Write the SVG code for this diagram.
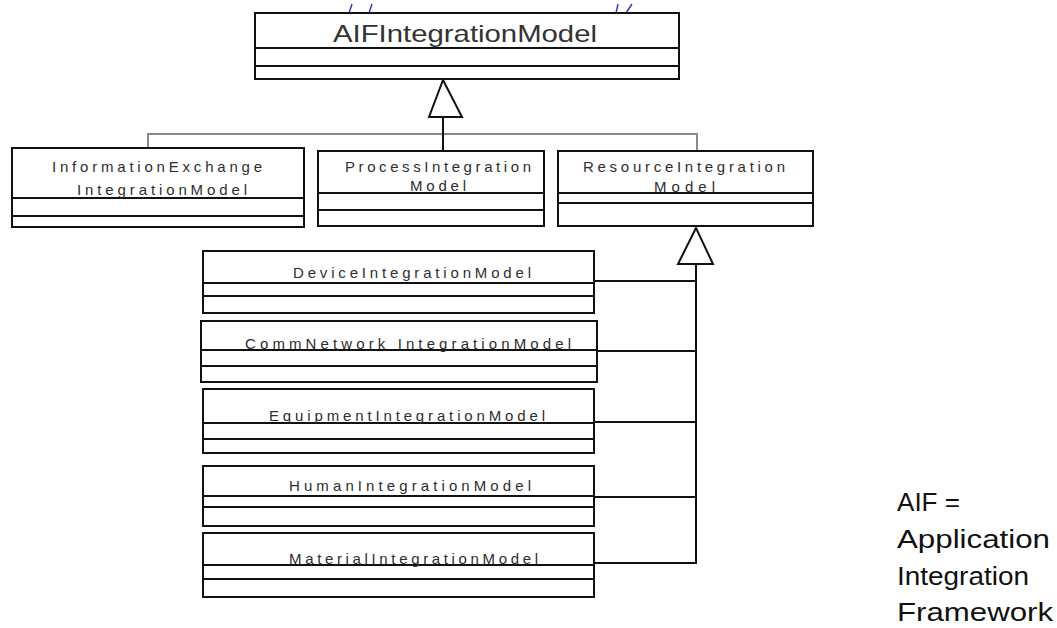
<svg xmlns="http://www.w3.org/2000/svg" width="1057" height="628" viewBox="0 0 1057 628">
  <style>
    .box { fill: #ffffff; stroke: #111111; stroke-width: 2; }
    .div { stroke: #111111; stroke-width: 2; }
    .lbl { font-family: "Liberation Sans", Arial, sans-serif; fill: #2e2e2e; }
    .big { font-size: 24px; fill: #333333; }
    .mid { font-size: 15px; }
    .sm  { font-size: 15px; }
    .note { font-family: "Liberation Sans", Arial, sans-serif; font-size: 26px; fill: #111111; }
    .gen { fill: none; stroke: #111111; stroke-width: 2; }
    .gray { fill: none; stroke: #8a8a8a; stroke-width: 2; }
    .head { fill: #ffffff; stroke: #111111; stroke-width: 2; }
  </style>
  <rect width="1057" height="628" fill="#ffffff"/>

  <!-- partial glyph marks at the top edge -->
  <g id="edge-marks" fill="none" stroke="#3b3bb8" stroke-width="1.5">
    <path d="M352 4 L349 13 L358 13 M372 4 L369 13 L378 13"/>
    <path d="M618 4 L616 13 L626 13 L632 4"/>
  </g>

  <!-- connectors -->
  <g id="connectors">
    <!-- first-level generalisation -->
    <polyline class="gray" points="148,160 148,134 697,134 697,153"/>
    <line class="gen" x1="443" y1="117" x2="443" y2="150"/>
    <polygon class="head" points="443,80 429,117 462,117"/>
    <!-- ResourceIntegrationModel generalisation -->
    <polyline class="gen" points="594,281 696,281"/>
    <polyline class="gen" points="597,351 696,351"/>
    <polyline class="gen" points="594,422 696,422"/>
    <polyline class="gen" points="594,497 696,497"/>
    <polyline class="gen" points="594,563 696,563 696,264"/>
    <polygon class="head" points="696,228 678,264 713,264"/>
  </g>

  <g id="AIFIntegrationModel">
    <rect class="box" x="255" y="13" width="424" height="66"/>
    <line class="div" x1="255" y1="48" x2="679" y2="48"/>
    <line class="div" x1="255" y1="66" x2="679" y2="66"/>
    <text class="lbl big" x="333" y="42" textLength="264" lengthAdjust="spacingAndGlyphs">AIFIntegrationModel</text>
  </g>

  <g id="InformationExchangeIntegrationModel">
    <rect class="box" x="12" y="148" width="292" height="79"/>
    <line class="div" x1="12" y1="198" x2="304" y2="198"/>
    <line class="div" x1="12" y1="216" x2="304" y2="216"/>
    <text class="lbl mid" x="52" y="172" textLength="210" lengthAdjust="spacing">InformationExchange</text>
    <text class="lbl mid" x="77" y="195" textLength="170" lengthAdjust="spacing">IntegrationModel</text>
  </g>

  <g id="ProcessIntegrationModel">
    <rect class="box" x="318" y="151" width="226" height="75"/>
    <line class="div" x1="318" y1="193" x2="544" y2="193"/>
    <line class="div" x1="318" y1="210" x2="544" y2="210"/>
    <text class="lbl mid" x="345" y="172" textLength="186" lengthAdjust="spacing">ProcessIntegration</text>
    <text class="lbl mid" x="410" y="191" textLength="56" lengthAdjust="spacing">Model</text>
  </g>

  <g id="ResourceIntegrationModel">
    <rect class="box" x="558" y="151" width="255" height="75"/>
    <line class="div" x1="558" y1="193" x2="813" y2="193"/>
    <line class="div" x1="558" y1="203" x2="813" y2="203"/>
    <text class="lbl mid" x="583" y="172" textLength="202" lengthAdjust="spacing">ResourceIntegration</text>
    <text class="lbl mid" x="654" y="192" textLength="61" lengthAdjust="spacing">Model</text>
  </g>

  <g id="DeviceIntegrationModel">
    <rect class="box" x="203" y="251" width="391" height="62"/>
    <line class="div" x1="203" y1="283" x2="594" y2="283"/>
    <line class="div" x1="203" y1="296" x2="594" y2="296"/>
    <text class="lbl sm" x="293" y="278" textLength="238" lengthAdjust="spacing">DeviceIntegrationModel</text>
  </g>

  <g id="CommNetworkIntegrationModel">
    <rect class="box" x="201" y="321" width="396" height="61"/>
    <line class="div" x1="201" y1="350" x2="597" y2="350"/>
    <line class="div" x1="201" y1="366" x2="597" y2="366"/>
    <text class="lbl sm" x="245" y="349" textLength="326" lengthAdjust="spacing">CommNetwork IntegrationModel</text>
  </g>

  <g id="EquipmentIntegrationModel">
    <rect class="box" x="203" y="389" width="391" height="64"/>
    <line class="div" x1="203" y1="423" x2="594" y2="423"/>
    <line class="div" x1="203" y1="439" x2="594" y2="439"/>
    <text class="lbl sm" x="269" y="421" textLength="276" lengthAdjust="spacing">EquipmentIntegrationModel</text>
  </g>

  <g id="HumanIntegrationModel">
    <rect class="box" x="203" y="466" width="391" height="60"/>
    <line class="div" x1="203" y1="496" x2="594" y2="496"/>
    <line class="div" x1="203" y1="507" x2="594" y2="507"/>
    <text class="lbl sm" x="289" y="491" textLength="242" lengthAdjust="spacing">HumanIntegrationModel</text>
  </g>

  <g id="MaterialIntegrationModel">
    <rect class="box" x="203" y="533" width="391" height="64"/>
    <line class="div" x1="203" y1="565" x2="594" y2="565"/>
    <line class="div" x1="203" y1="579" x2="594" y2="579"/>
    <text class="lbl sm" x="289" y="564" textLength="249" lengthAdjust="spacing">MaterialIntegrationModel</text>
  </g>

  <g id="legend">
    <text class="note" x="897" y="511" textLength="63" lengthAdjust="spacingAndGlyphs">AIF =</text>
    <text class="note" x="897" y="548" textLength="153" lengthAdjust="spacingAndGlyphs">Application</text>
    <text class="note" x="897" y="585" textLength="132" lengthAdjust="spacingAndGlyphs">Integration</text>
    <text class="note" x="897" y="621" textLength="156" lengthAdjust="spacingAndGlyphs">Framework</text>
  </g>
</svg>
